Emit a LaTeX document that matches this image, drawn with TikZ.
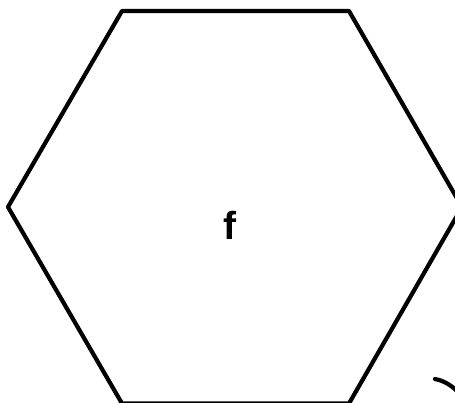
\documentclass[tikz,border=0pt]{standalone}
\usepackage{fontspec}
\setmainfont{Liberation Sans}
\begin{document}
\begin{tikzpicture}[x=1pt,y=-1pt,
  edge/.style={line width=4.2pt,line join=round,line cap=round,black},
  label/.style={font=\bfseries\fontsize{39}{41}\selectfont,inner sep=0pt}]
\useasboundingbox (0,0) rectangle (455,403);
\draw[edge] (8,207) -- (122,11) -- (349,11) -- (462,207) -- (349,403.5) -- (122,403.5) -- cycle;
\node[label] (f) at (230,225) {f};
\draw[edge] (435,379) .. controls (445,381) and (452,386) .. (458,392);
\end{tikzpicture}
\end{document}
